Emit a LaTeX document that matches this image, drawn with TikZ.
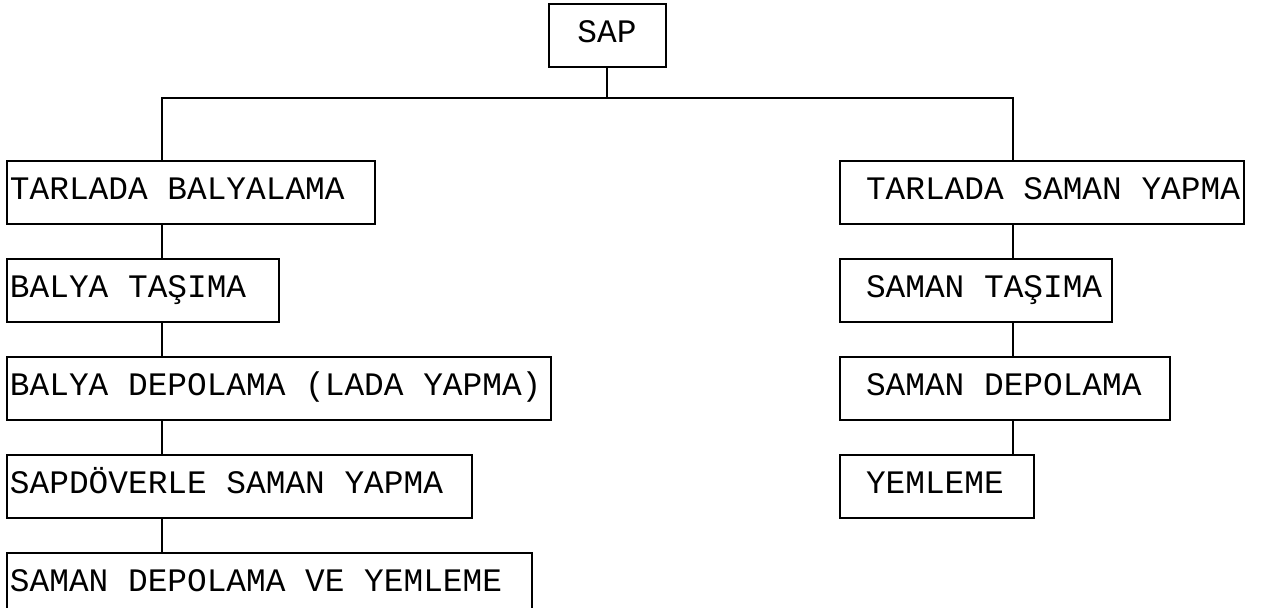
\documentclass[tikz,border=0pt]{standalone}
\usepackage{fontspec}
\usepackage{tikz}
\usetikzlibrary{positioning}

\newfontfamily\dotfont{Liberation Mono}
% fixed-width label, flush left with a small or a wide indent
\newcommand{\lefttext}[2]{\makebox[#1][l]{\hspace*{1.5pt}#2}}
\newcommand{\righttext}[2]{\makebox[#1][l]{\hspace*{13pt}#2}}

\begin{document}
\begin{tikzpicture}[
    x=0.5pt, y=-0.5pt,
    node distance=16.4pt,
    every node/.style={font=\dotfont\fontsize{16.4}{19}\selectfont},
    box/.style={rectangle, draw, line width=1pt, inner sep=0pt, minimum height=31.5pt,
      text height=9.5pt, text depth=2.5pt},
    link/.style={line width=1pt}
  ]

  \useasboundingbox (0,0) rectangle (1261,608);

  \node[box, minimum width=58.5pt, anchor=north] (sap) at (607,3.5) {SAP};

  % left branch
  \node[box, anchor=north west] (tb) at (6,160.5) {\lefttext{184pt}{TARLADA BALYALAMA}};
  \node[box, below=of tb.south west, anchor=north west] (bt) {\lefttext{136pt}{BALYA TAŞIMA}};
  \node[box, below=of bt.south west, anchor=north west] (bd) {\lefttext{271.75pt}{BALYA DEPOLAMA (LADA YAPMA)}};
  \node[box, below=of bd.south west, anchor=north west] (sd) {\lefttext{232.25pt}{SAPDÖVERLE SAMAN YAPMA}};
  \node[box, below=of sd.south west, anchor=north west] (sdy) {\lefttext{262.5pt}{SAMAN DEPOLAMA VE YEMLEME}};

  % right branch
  \node[box, anchor=north west] (ts) at (839,160.5) {\righttext{202pt}{TARLADA SAMAN YAPMA}};
  \node[box, below=of ts.south west, anchor=north west] (st) {\righttext{136pt}{SAMAN TAŞIMA}};
  \node[box, below=of st.south west, anchor=north west] (sdp) {\righttext{165pt}{SAMAN DEPOLAMA}};
  \node[box, below=of sdp.south west, anchor=north west] (yem) {\righttext{97pt}{YEMLEME}};

  \coordinate (lbus) at (162,98);
  \coordinate (rbus) at (1013,98);

  \draw[link] (sap.south) -- (sap.south |- lbus);
  \draw[link] (tb.north -| lbus) -- (lbus) -- (rbus) -- (ts.north -| rbus);
  \foreach \a/\b in {tb/bt, bt/bd, bd/sd, sd/sdy}
    \draw[link] (\a.south -| lbus) -- (\b.north -| lbus);
  \foreach \a/\b in {ts/st, st/sdp, sdp/yem}
    \draw[link] (\a.south -| rbus) -- (\b.north -| rbus);

\end{tikzpicture}
\end{document}
